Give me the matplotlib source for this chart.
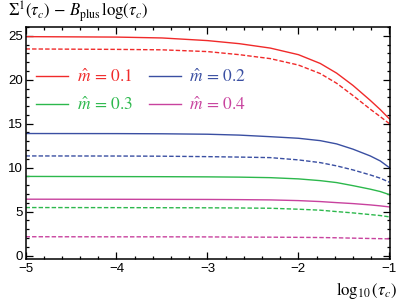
import matplotlib
matplotlib.use("Agg")
import matplotlib.pyplot as plt
from matplotlib.ticker import MultipleLocator

plt.rcParams['mathtext.fontset'] = 'stix'
plt.rcParams['font.family'] = ['Liberation Sans', 'DejaVu Sans']
plt.rcParams['lines.scale_dashes'] = False

# values
log_tau = [-5.0, -4.0, -3.5, -3.0, -2.65, -2.31, -2.0, -1.76, -1.58, -1.40, -1.21, -1.1, -1.0]

red_solid = [24.9, 24.85, 24.75, 24.45, 24.1, 23.6, 22.85, 21.85, 20.75, 19.35, 17.65, 16.6, 15.55]
red_dashed = [23.5, 23.45, 23.4, 23.2, 22.85, 22.4, 21.67, 20.7, 19.6, 18.2, 16.65, 15.8, 15.0]
blue_solid = [13.88, 13.87, 13.85, 13.8, 13.7, 13.52, 13.34, 13.07, 12.7, 12.1, 11.33, 10.76, 10.0]
blue_dashed = [11.33, 11.32, 11.3, 11.25, 11.2, 11.14, 10.88, 10.57, 10.2, 9.74, 9.17, 8.8, 8.34]
green_solid = [9.0, 8.98, 8.97, 8.95, 8.92, 8.86, 8.72, 8.52, 8.3, 7.95, 7.55, 7.28, 6.93]
green_dashed = [5.46, 5.45, 5.44, 5.43, 5.41, 5.38, 5.27, 5.16, 5.0, 4.85, 4.66, 4.55, 4.4]
mag_solid = [6.41, 6.4, 6.39, 6.38, 6.36, 6.33, 6.25, 6.14, 6.02, 5.91, 5.76, 5.65, 5.53]
mag_dashed = [2.14, 2.13, 2.13, 2.12, 2.1, 2.09, 2.07, 2.05, 2.02, 1.98, 1.94, 1.92, 1.9]

labels = ['0.1', '0.2', '0.3', '0.4']
colors = ['#f02a2a', '#3a4fa2', '#2cb84c', '#c8429e']

fig = plt.figure(figsize=(3.99, 3.03), dpi=100)
ax = fig.add_axes([0.064, 0.145, 0.913, 0.766])

solids = [red_solid, blue_solid, green_solid, mag_solid]
dashes = [red_dashed, blue_dashed, green_dashed, mag_dashed]
handles = []
for s, d, c, lab in zip(solids, dashes, colors, labels):
    h, = ax.plot(log_tau, s, color=c, lw=1.0, label=r'$\hat{m}\,=\,%s$' % lab)
    ax.plot(log_tau, d, color=c, lw=1.0, dashes=(3.2, 1.5))
    handles.append(h)

ax.set_xlim(-5.0, -0.995)
ax.set_ylim(-0.4, 26)
ax.xaxis.set_major_locator(MultipleLocator(1))
ax.xaxis.set_minor_locator(MultipleLocator(0.2))
ax.yaxis.set_major_locator(MultipleLocator(5))
ax.yaxis.set_minor_locator(MultipleLocator(1))
ax.tick_params(which='both', direction='in', top=True, right=True, width=0.9,
               labelsize=9.5, pad=3)
ax.tick_params(which='major', length=5)
ax.tick_params(which='minor', length=2.5)
ax.tick_params(axis='y', pad=2)
for sp in ax.spines.values():
    sp.set_linewidth(1.1)

# legend rows: 0.1, 0.2 on top; 0.3, 0.4 below (ncol fills column-wise)
order = [0, 2, 1, 3]
leg = ax.legend(handles=[handles[i] for i in order], ncol=2, frameon=False,
                loc='upper left', bbox_to_anchor=(0.0, 0.87), fontsize=12.5,
                handlelength=1.85, handletextpad=0.5, columnspacing=0.9,
                labelspacing=0.65, borderaxespad=0.2, labelcolor='linecolor')

fig.text(0.02, 0.945, r'$\Sigma^1(\tau_c)\,-\,B_{\rm plus}\,\log(\tau_c)$',
         fontsize=12, va='baseline', ha='left')
fig.text(0.995, 0.028, r'$\log_{10}(\tau_c)$', fontsize=12,
         va='baseline', ha='right')

fig.savefig('out.png', dpi=100)
